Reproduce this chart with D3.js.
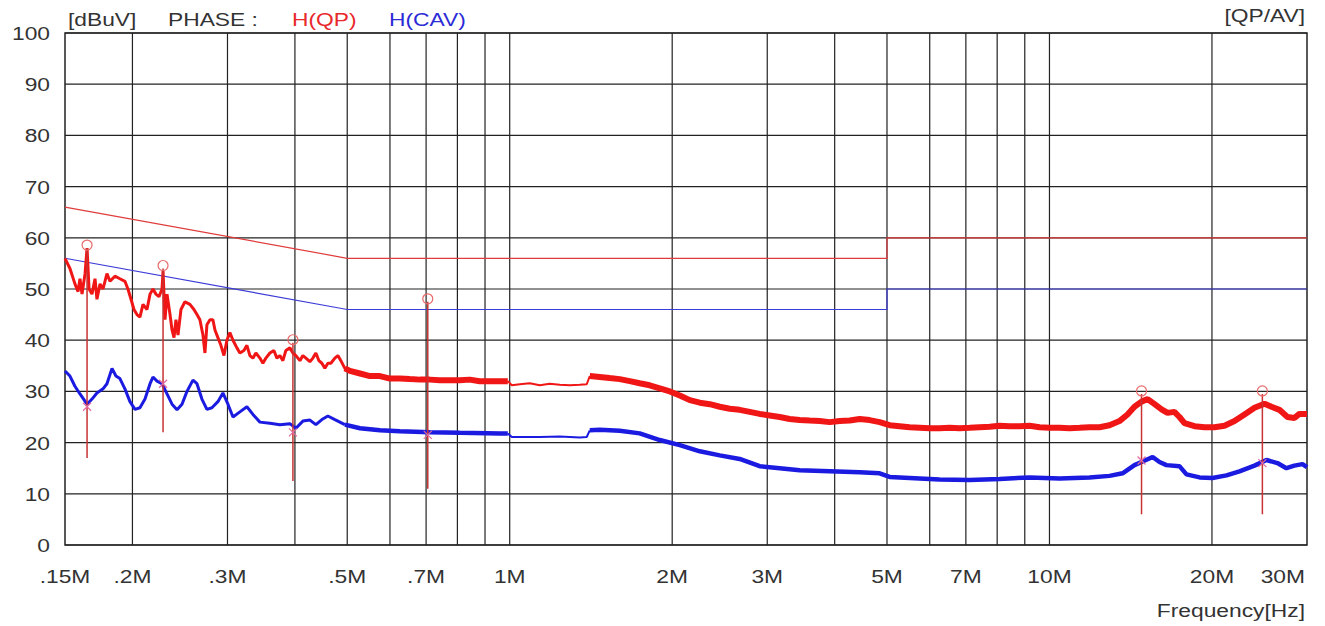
<!DOCTYPE html>
<meta charset="utf-8">
<script src="https://d3js.org/d3.v7.min.js"></script>
<style>
  body { margin: 0; background: #fff; }
  text { font-family: "Liberation Sans", Arial, sans-serif; }
</style>
<div id="chart"></div>
<script>

// ---- data (MHz / dBuV) ----
var qpFreq = [0.150,0.1532,0.1565,0.1586,0.1599,0.1613,0.1634,0.1648,0.1662,0.1683,0.1705,0.1719,0.1742,0.1764,0.1794,0.1817,0.1856,0.1896,0.1937,0.1962,0.1988,0.2013,0.2039,0.2065,0.2092,0.2128,0.2156,0.2183,0.2211,0.2240,0.2269,0.2279,0.2298,0.2318,0.2348,0.2368,0.2388,0.2408,0.2429,0.2460,0.2502,0.2556,0.2600,0.2634,0.2667,0.2702,0.2725,0.2748,0.2784,0.2819,0.2844,0.2880,0.2917,0.2955,0.2993,0.3031,0.3071,0.3123,0.3163,0.3218,0.3259,0.3301,0.3344,0.3387,0.3445,0.3489,0.3534,0.3595,0.3657,0.3704,0.3752,0.3800,0.3849,0.3915,0.3966,0.4017,0.4086,0.4138,0.4192,0.4264,0.4319,0.4374,0.4431,0.4488,0.4545,0.4604,0.4663,0.4743,0.4805,0.4866,0.4950,0.5057,0.528,0.551,0.575,0.600,0.626,0.653,0.682,0.711,0.742,0.775,0.808,0.843,0.880,0.919,0.959,0.992,1.009,1.044,1.089,1.137,1.186,1.238,1.292,1.348,1.389,1.407,1.468,1.532,1.599,1.669,1.741,1.817,1.897,1.980,2.066,2.156,2.250,2.348,2.450,2.557,2.667,2.784,2.905,3.032,3.164,3.301,3.445,3.595,3.752,3.915,4.086,4.264,4.450,4.643,4.846,5.057,5.277,5.507,5.747,5.997,6.258,6.531,6.815,7.113,7.423,7.746,8.084,8.435,8.803,9.186,9.587,10.00,10.44,10.89,11.37,11.86,12.38,12.92,13.48,13.95,14.37,14.81,15.20,15.66,16.13,16.55,17.04,17.41,17.79,18.57,19.38,20.22,21.10,22.02,22.98,23.98,25.03,25.78,26.67,27.60,28.43,29.04,30.0];
var qpLevel = [56,54,51,49.5,52,49,53,58,50,49,52,48,51,50,53,51.5,52.5,52,51.5,50,48,46,45,44.5,47,46,49,50,49,48.5,50,53.5,44,49,45,42,40.5,44,41,46,47.5,47,46,45,44,41,37.5,43,44,44,42,40.5,39,37,40,41.5,40,38.5,37.5,38,39,37,36.5,37.5,36.5,35.5,36.5,37.5,38,36.5,37,36,38,38.5,37.5,37,36,37,36.5,35.8,36.5,37.5,36,35.5,34.5,35.5,35.5,36.5,37,36,34.5,34,33.5,33,33,32.5,32.5,32.4,32.3,32.3,32.2,32.2,32.2,32.3,32,32,32,32,31.2,31.4,31.6,31.2,31.5,31.3,31.2,31.3,31.4,33,32.8,32.6,32.4,32,31.6,31.2,30.6,30,29.2,28.3,27.8,27.5,27,26.6,26.4,26,25.6,25.3,25,24.6,24.4,24.3,24.2,24,24.2,24.3,24.6,24.4,24,23.4,23.2,23,22.9,22.8,22.8,22.9,22.8,22.9,23,23.1,23.3,23.2,23.2,23.3,23,22.9,22.9,22.8,22.9,23,23,23.4,24.2,25.5,27,28,28.5,27.5,26.5,25.8,26,25,23.8,23.2,23,23,23.3,24.2,25.5,26.8,27.6,27,26.4,25,24.8,25.6,25.6];

var avFreq = [0.150,0.1532,0.1565,0.1599,0.1648,0.1683,0.1719,0.1764,0.1794,0.1833,0.1864,0.1896,0.1937,0.1979,0.2022,0.2065,0.2110,0.2156,0.2183,0.2221,0.2269,0.2318,0.2368,0.2419,0.2471,0.2524,0.2589,0.2634,0.2690,0.2748,0.2807,0.2880,0.2942,0.3006,0.3071,0.3163,0.3259,0.3344,0.3445,0.3595,0.3752,0.3915,0.4017,0.4138,0.4264,0.4374,0.4488,0.4604,0.4743,0.4950,0.528,0.575,0.626,0.711,0.808,0.959,0.992,1.009,1.137,1.238,1.348,1.389,1.407,1.468,1.599,1.741,1.897,2.066,2.250,2.450,2.667,2.905,3.164,3.445,3.915,4.450,4.846,5.057,5.507,6.258,7.113,8.084,9.186,10.44,11.86,12.92,13.66,14.37,14.81,15.53,15.99,16.47,17.41,17.94,18.97,20.04,21.28,22.49,23.98,25.23,26.44,27.48,28.43,29.42,30.0];
var avLevel = [34,33,31,29.5,27.5,28.5,29.7,30.5,31.5,34.5,33,32.5,30.5,28,26.5,26.8,28.5,31.5,32.8,32,31.5,29.5,27.5,26.4,27.5,30,32.2,31.5,28.5,26.5,26.8,28,29.7,27.5,25,26,27,25.5,24,23.8,23.5,23.7,22.8,24.2,24.4,23.5,24.5,25.2,24.5,23.5,22.8,22.4,22.2,22,21.9,21.8,21.8,21.1,21.1,21.2,21,21.1,22.4,22.5,22.3,21.8,20.5,19.5,18.3,17.5,16.8,15.4,15,14.6,14.4,14.2,14,13.3,13.1,12.8,12.7,12.9,13.2,13,13.2,13.5,14,15.6,16.2,17.2,16.2,15.6,15.4,13.8,13.2,13.1,13.6,14.4,15.5,16.6,16,15,15.5,15.8,15.2];

// limit lines
var limitFreq = [0.15, 0.5, 5, 5, 30];
var qpLimit   = [66, 56, 56, 60, 60];
var avLimit   = [56, 46, 46, 50, 50];

// final measurement markers
var markFreq = [0.1648, 0.2279, 0.3966, 0.705, 14.81, 24.8];
var markQP   = [58, 54, 39.5, 47.5, 29.5, 29.5];
var markAV   = [27, 31.5, 22, 21.5, 16.5, 16];
var markLow  = [17, 22, 12.5, 11, 6, 6];

var gridFreq  = [0.2,0.3,0.4,0.5,0.6,0.7,0.8,0.9,1,2,3,4,5,6,7,8,9,10,20];
var tickFreq  = [0.15,0.2,0.3,0.5,0.7,1,2,3,5,7,10,20,30];
var tickLabel = [".15M",".2M",".3M",".5M",".7M","1M","2M","3M","5M","7M","10M","20M","30M"];
var yTicks    = [0,10,20,30,40,50,60,70,80,90,100];

// ---- layout ----
var W = 1325, H = 626;
var plotL = 65, plotR = 1307, plotT = 33, plotB = 545;
var sx = 1.2; // the source text is a bit wide

var svg = d3.select("#chart").append("svg")
  .attr("width", W).attr("height", H);

var x = d3.scaleLog().domain([0.15, 30]).range([plotL, plotR]);
var y = d3.scaleLinear().domain([0, 100]).range([plotB, plotT]);

// grid
svg.append("g")
  .selectAll("line").data(gridFreq).enter().append("line")
    .attr("x1", function(d){ return x(d); }).attr("x2", function(d){ return x(d); })
    .attr("y1", plotT).attr("y2", plotB)
    .attr("stroke", "#222").attr("stroke-width", 1.2);
svg.append("g")
  .selectAll("line").data(yTicks).enter().append("line")
    .attr("x1", plotL).attr("x2", plotR)
    .attr("y1", function(d){ return y(d); }).attr("y2", function(d){ return y(d); })
    .attr("stroke", "#222").attr("stroke-width", 1.2);
svg.append("rect")
  .attr("x", plotL).attr("y", plotT).attr("width", plotR - plotL).attr("height", plotB - plotT)
  .attr("fill", "none").attr("stroke", "#222").attr("stroke-width", 1.5);

// y labels
svg.append("g").selectAll("text").data(yTicks).enter().append("text")
  .attr("transform", function(d){ return "translate(50," + (y(d) + 7) + ") scale(" + sx + ",1)"; })
  .attr("text-anchor", "end").attr("font-size", 19).attr("fill", "#333")
  .text(function(d){ return d; });

// x labels (last one sits flush with the right edge)
svg.append("g").selectAll("text").data(tickFreq).enter().append("text")
  .attr("transform", function(d, i){
    var tx = i === tickFreq.length - 1 ? plotR - 2 : x(d);
    return "translate(" + tx + ",583) scale(" + sx + ",1)";
  })
  .attr("text-anchor", function(d, i){ return i === tickFreq.length - 1 ? "end" : "middle"; })
  .attr("font-size", 19).attr("fill", "#333")
  .text(function(d, i){ return tickLabel[i]; });

function label(txt, tx, ty, col, anchor) {
  svg.append("text")
    .attr("transform", "translate(" + tx + "," + ty + ") scale(" + sx + ",1)")
    .attr("text-anchor", anchor || "start").attr("font-size", 19)
    .attr("fill", col).text(txt);
}
label("[dBuV]", 68, 26, "#333");
label("PHASE :", 168, 26, "#333");
label("H(QP)", 292, 26, "#e8282a");
label("H(CAV)", 389, 26, "#2b2bd6");
label("[QP/AV]", 1305, 22, "#333", "end");
label("Frequency[Hz]", 1305, 617, "#333", "end");

// limits
var limLine = d3.line()
  .x(function(d){ return x(d[0]); })
  .y(function(d){ return y(d[1]); });
svg.append("path")
  .attr("d", limLine(d3.zip(limitFreq, qpLimit)))
  .attr("fill", "none").attr("stroke", "#e03c3c").attr("stroke-width", 1.2);
svg.append("path")
  .attr("d", limLine(d3.zip(limitFreq, avLimit)))
  .attr("fill", "none").attr("stroke", "#3c3cd8").attr("stroke-width", 1.2);

// traces: the scan band is wide where it is dense, thin from 1M to 1.4M
function drawTrace(fr, lv, col, wide) {
  var pts = d3.zip(fr, lv);
  var parts = [
    { lo: 0,     hi: 0.51, w: 3 },
    { lo: 0.495, hi: 1.0,  w: wide },
    { lo: 0.992, hi: 1.41, w: 2 },
    { lo: 1.407, hi: 31,   w: wide }
  ];
  parts.forEach(function(s) {
    svg.append("path")
      .attr("d", limLine(pts.filter(function(p){ return p[0] >= s.lo && p[0] <= s.hi; })))
      .attr("fill", "none").attr("stroke", col)
      .attr("stroke-width", s.w).attr("stroke-linejoin", "bevel");
  });
}
drawTrace(qpFreq, qpLevel, "#f01616", 6);
drawTrace(avFreq, avLevel, "#1a1ae0", 4.5);

// markers
var marks = markFreq.map(function(f, i){ return { f: f, qp: markQP[i], av: markAV[i], lo: markLow[i] }; });
var mg = svg.append("g");
mg.selectAll("line").data(marks).enter().append("line")
  .attr("x1", function(d){ return x(d.f); }).attr("x2", function(d){ return x(d.f); })
  .attr("y1", function(d){ return y(d.qp); }).attr("y2", function(d){ return y(d.lo); })
  .attr("stroke", "#c83232").attr("stroke-width", 1.5);
mg.selectAll("circle").data(marks).enter().append("circle")
  .attr("cx", function(d){ return x(d.f); }).attr("cy", function(d){ return y(d.qp) - 3; })
  .attr("r", 5).attr("fill", "none").attr("stroke", "#e86a6a").attr("stroke-width", 1.2);
mg.selectAll("path").data(marks).enter().append("path")
  .attr("d", function(d){
    var cx = x(d.f), cy = y(d.av);
    return "M" + (cx-4) + "," + (cy-4) + "L" + (cx+4) + "," + (cy+4) +
           "M" + (cx+4) + "," + (cy-4) + "L" + (cx-4) + "," + (cy+4);
  })
  .attr("stroke", "#e26aa0").attr("stroke-width", 1.2).attr("fill", "none");

</script>
